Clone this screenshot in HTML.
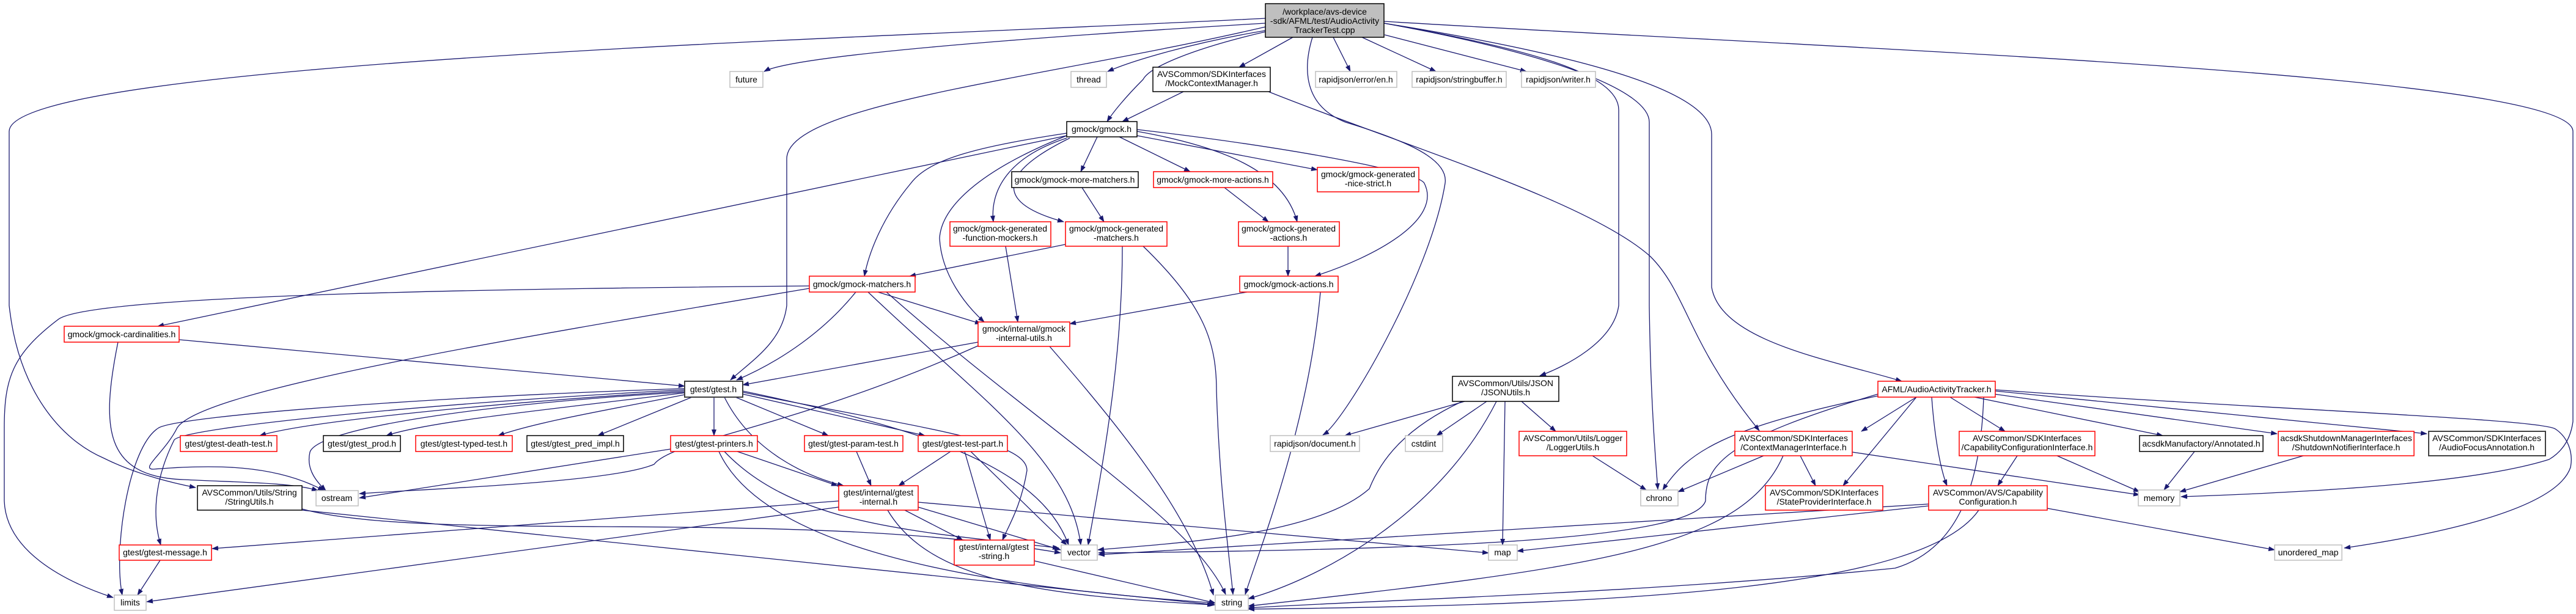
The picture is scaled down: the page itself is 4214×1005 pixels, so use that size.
<!DOCTYPE html>
<html><head><meta charset="utf-8"><style>
html,body{margin:0;padding:0;background:#fff;}
svg{display:block;}
text{font-family:"Liberation Sans",sans-serif;font-size:14px;fill:#000;text-anchor:middle;}
.e{fill:none;stroke:#191970;stroke-width:1.3;marker-end:url(#a);}
.r{fill:#fff;stroke:#ff0000;stroke-width:1.5;}
.k{fill:#fff;stroke:#000;stroke-width:1.5;}
.g{fill:#fff;stroke:#bfbfbf;stroke-width:1.5;}
.d{fill:#fff;stroke:#404040;stroke-width:2;}
.m{fill:#bfbfbf;stroke:#000;stroke-width:1.5;}
</style></head><body>
<svg width="4214" height="1005" viewBox="0 0 4214 1005" xmlns="http://www.w3.org/2000/svg">
<defs><marker id="a" markerWidth="11" markerHeight="8" refX="10" refY="4" orient="auto" markerUnits="userSpaceOnUse"><path d="M0,0 L11,4 L0,8 z" fill="#191970"/></marker></defs>

<!-- edges from main -->
<path class="e" d="M2070,30 C1500,60 15,100 15,215 L15,500 C30,640 100,720 170,750 C220,775 280,790 320,798"/>
<path class="e" d="M2264,35 C3000,80 4209,120 4209,215 L4209,690 C4205,720 4190,740 4170,752 C4050,790 3800,805 3568,813"/>
<path class="e" d="M2070,38 C1700,60 1300,90 1250,117"/>
<path class="e" d="M2070,50 C1950,70 1850,100 1812,117"/>
<path class="e" d="M2115,61 L2027,110"/>
<path class="e" d="M2070,52 C1950,80 1880,110 1870,130 C1840,160 1820,185 1811,199"/>
<path class="e" d="M2070,44 C1700,130 1287,170 1287,260 L1287,500 C1280,560 1230,590 1195,622"/>
<path class="e" d="M2181,61 L2209,117"/>
<path class="e" d="M2228,61 L2349,117"/>
<path class="e" d="M2265,57 L2497,117"/>
<path class="e" d="M2147,61 C2135,100 2125,170 2201,200 C2300,230 2370,260 2364,300 C2340,450 2200,690 2164,712"/>
<path class="e" d="M2264,38 C2500,80 2648,120 2648,180 L2648,500 C2640,560 2560,600 2519,615"/>
<path class="e" d="M2264,38 C2550,90 2698,150 2698,200 L2698,500 C2700,650 2708,750 2712,801"/>
<path class="e" d="M2264,38 C2650,100 2800,160 2800,220 L2800,470 C2815,560 3000,590 3111,624"/>
<path class="e" d="M2075,150 C2300,240 2600,330 2700,420 C2760,480 2760,560 2878,705"/>
<path class="e" d="M1936,150 L1836,199"/>

<!-- gmock.h -->
<path class="e" d="M1795,224 L1768,281"/>
<path class="e" d="M1831,224 L1947,281"/>
<path class="e" d="M1860,222 L2155,278"/>
<path class="e" d="M1745,226 C1640,260 1620,320 1625,363"/>
<path class="e" d="M1750,226 C1640,280 1620,330 1740,363"/>
<path class="e" d="M1860,215 C2000,240 2100,280 2122,363"/>
<path class="e" d="M1860,212 C2100,240 2320,280 2330,300 C2360,360 2250,420 2151,452"/>
<path class="e" d="M1745,218 C1600,240 1520,260 1490,300 C1440,360 1420,420 1414,452"/>
<path class="e" d="M1745,222 C1600,280 1540,340 1537,390 C1540,450 1580,500 1610,527"/>
<path class="e" d="M1745,222 L258,534"/>

<path class="e" d="M1770,307 L1806,363"/>
<path class="e" d="M2003,307 L2075,363"/>
<path class="e" d="M2107,403 L2107,452"/>
<path class="e" d="M1743,400 L1488,452"/>
<path class="e" d="M1836,403 C1836,600 1800,780 1780,892"/>
<path class="e" d="M1870,403 C1970,500 1990,560 1990,640 C1995,800 2010,900 2017,973"/>
<path class="e" d="M1645,403 L1665,527"/>
<path class="e" d="M2040,478 L1750,530"/>
<path class="e" d="M2160,478 C2140,700 2060,900 2037,973"/>

<!-- gmock-matchers -->
<path class="e" d="M1436,478 L1605,530"/>
<path class="e" d="M1400,478 C1350,540 1280,590 1205,622"/>
<path class="e" d="M1324,468 C900,472 150,480 95,523 C20,580 7,620 7,700 L7,820 C10,900 100,950 185,978"/>
<path class="e" d="M1420,478 C1600,650 1750,750 1768,892"/>
<path class="e" d="M1450,478 C1700,700 1950,850 2005,973"/>
<path class="e" d="M1324,472 C800,560 330,640 290,700 C270,740 230,767 250,768 C350,760 450,760 530,803"/>

<!-- gtest.h -->
<path class="e" d="M1120,640 C800,660 500,690 425,713"/>
<path class="e" d="M1120,643 C900,670 700,690 632,713"/>
<path class="e" d="M1120,646 C1000,670 880,690 815,713"/>
<path class="e" d="M1132,650 L978,713"/>
<path class="e" d="M1120,636 C700,650 300,680 260,700 C210,730 185,900 200,974"/>
<path class="e" d="M1120,638 C700,660 300,700 285,720 C250,790 250,850 263,892"/>
<path class="e" d="M1120,642 C800,660 520,700 507,740 C500,770 520,790 533,803"/>
<path class="e" d="M1168,650 L1168,713"/>
<path class="e" d="M1203,650 L1355,713"/>
<path class="e" d="M1215,645 L1513,713"/>
<path class="e" d="M1185,650 C1230,740 1320,780 1380,795"/>
<path class="e" d="M1215,640 C1500,700 1700,760 1748,892"/>
<path class="e" d="M1215,642 C1500,700 1680,720 1680,770 C1670,830 1650,860 1640,884"/>

<path class="e" d="M1097,735 L588,815"/>
<path class="e" d="M1206,739 L1370,795"/>
<path class="e" d="M1185,739 C1300,860 1500,870 1732,897"/>
<path class="e" d="M1176,739 C1250,900 1600,960 1988,987"/>
<path class="e" d="M1401,739 L1425,795"/>
<path class="e" d="M1555,739 L1470,795"/>
<path class="e" d="M1578,739 L1620,884"/>
<path class="e" d="M1588,739 L1745,892"/>
<path class="e" d="M1480,835 L1575,884"/>
<path class="e" d="M1502,830 L1735,900"/>
<path class="e" d="M1452,835 C1520,950 1700,975 1985,990"/>
<path class="e" d="M1502,822 L2435,905"/>
<path class="e" d="M1372,830 L240,985"/>
<path class="e" d="M1372,820 L347,898"/>
<path class="e" d="M1692,918 L1988,987"/>
<path class="e" d="M494,835 L1988,990"/>
<path class="e" d="M494,833 C700,890 1300,830 1735,905"/>
<path class="e" d="M262,917 L225,974"/>
<path class="e" d="M293,556 L1120,632"/>
<path class="e" d="M193,560 C165,700 170,780 300,785 C400,790 480,790 520,803"/>
<path class="e" d="M1600,560 L1215,630"/>
<path class="e" d="M1600,566 C1300,700 1100,720 1070,760 C1000,790 700,800 588,808"/>
<path class="e" d="M1717,567 C1850,720 1950,850 1985,974"/>

<!-- JSONUtils -->
<path class="e" d="M2396,657 L2200,713"/>
<path class="e" d="M2432,657 L2350,713"/>
<path class="e" d="M2489,657 L2545,706"/>
<path class="e" d="M2462,657 L2458,892"/>
<path class="e" d="M2448,657 C2350,850 2150,950 2042,980"/>
<path class="e" d="M2392,657 C2300,700 2260,750 2240,800 C2150,880 1900,890 1796,900"/>
<path class="e" d="M2605,746 L2693,802"/>
<path class="e" d="M2885,746 L2745,805"/>
<path class="e" d="M2945,746 L2970,795"/>
<path class="e" d="M3030,740 L3500,810"/>
<path class="e" d="M2917,746 C2850,900 2600,930 2042,992"/>

<!-- AudioActivityTracker -->
<path class="e" d="M3135,650 L3045,706"/>
<path class="e" d="M3072,648 C2820,700 2760,740 2720,802"/>
<path class="e" d="M3072,645 C2820,720 2790,760 2790,820 C2770,880 2400,900 1797,905"/>
<path class="e" d="M3135,650 L3015,795"/>
<path class="e" d="M3160,650 C3165,720 3175,770 3185,795"/>
<path class="e" d="M3190,650 L3280,706"/>
<path class="e" d="M3230,650 L3538,713"/>
<path class="e" d="M3262,645 L3725,710"/>
<path class="e" d="M3264,640 L3970,710"/>
<path class="e" d="M3264,638 C3700,670 4150,685 4180,702 C4200,715 4210,740 4205,765 C4180,840 3950,880 3835,897"/>
<path class="e" d="M3245,650 C3240,800 3200,900 3100,930 C2700,970 2300,980 2042,995"/>
<path class="e" d="M3155,828 L2482,902"/>
<path class="e" d="M3155,825 L1797,908"/>
<path class="e" d="M3349,832 L3721,900"/>
<path class="e" d="M3237,835 C3150,960 2700,990 2042,997"/>
<path class="e" d="M3300,746 L3268,795"/>
<path class="e" d="M3365,746 L3500,805"/>
<path class="e" d="M3590,739 L3540,802"/>
<path class="e" d="M3768,746 L3566,805"/>

<!-- nodes -->
<rect class="m" x="2070" y="6" width="194" height="55"/>
<text x="2167" y="24">/workplace/avs-device</text>
<text x="2167" y="39">-sdk/AFML/test/AudioActivity</text>
<text x="2167" y="54">TrackerTest.cpp</text>

<rect class="g" x="1194" y="117" width="54" height="26"/><text x="1221" y="135">future</text>
<rect class="g" x="1752" y="117" width="58" height="26"/><text x="1781" y="135">thread</text>
<rect class="k" x="1886" y="110" width="192" height="40"/><text x="1982" y="126">AVSCommon/SDKInterfaces</text><text x="1982" y="141">/MockContextManager.h</text>
<rect class="g" x="2152" y="117" width="133" height="26"/><text x="2218" y="135">rapidjson/error/en.h</text>
<rect class="g" x="2310" y="117" width="154" height="26"/><text x="2387" y="135">rapidjson/stringbuffer.h</text>
<rect class="g" x="2489" y="117" width="121" height="26"/><text x="2549" y="135">rapidjson/writer.h</text>

<rect class="k" x="1745" y="199" width="115" height="25"/><text x="1802" y="216">gmock/gmock.h</text>
<rect class="k" x="1655" y="281" width="207" height="26"/><text x="1758" y="299">gmock/gmock-more-matchers.h</text>
<rect class="r" x="1887" y="281" width="195" height="26"/><text x="1984" y="299">gmock/gmock-more-actions.h</text>
<rect class="r" x="2155" y="274" width="166" height="40"/><text x="2238" y="290">gmock/gmock-generated</text><text x="2238" y="305">-nice-strict.h</text>
<rect class="r" x="1554" y="363" width="165" height="40"/><text x="1636" y="379">gmock/gmock-generated</text><text x="1636" y="394">-function-mockers.h</text>
<rect class="r" x="1743" y="363" width="166" height="40"/><text x="1826" y="379">gmock/gmock-generated</text><text x="1826" y="394">-matchers.h</text>
<rect class="r" x="2026" y="363" width="165" height="40"/><text x="2108" y="379">gmock/gmock-generated</text><text x="2108" y="394">-actions.h</text>
<rect class="r" x="1324" y="452" width="173" height="26"/><text x="1410" y="470">gmock/gmock-matchers.h</text>
<rect class="r" x="2028" y="452" width="161" height="26"/><text x="2108" y="470">gmock/gmock-actions.h</text>

<rect class="r" x="105" y="534" width="188" height="26"/><text x="199" y="552">gmock/gmock-cardinalities.h</text>
<rect class="r" x="1600" y="527" width="150" height="40"/><text x="1675" y="543">gmock/internal/gmock</text><text x="1675" y="558">-internal-utils.h</text>
<rect class="d" x="1120" y="624" width="95" height="26"/><text x="1167" y="642">gtest/gtest.h</text>
<rect class="k" x="2376" y="616" width="174" height="41"/><text x="2463" y="632">AVSCommon/Utils/JSON</text><text x="2463" y="647">/JSONUtils.h</text>
<rect class="r" x="3072" y="624" width="192" height="26"/><text x="3168" y="642">AFML/AudioActivityTracker.h</text>

<rect class="r" x="295" y="713" width="158" height="26"/><text x="374" y="731">gtest/gtest-death-test.h</text>
<rect class="k" x="529" y="713" width="126" height="26"/><text x="592" y="731">gtest/gtest_prod.h</text>
<rect class="r" x="680" y="713" width="158" height="26"/><text x="759" y="731">gtest/gtest-typed-test.h</text>
<rect class="k" x="862" y="713" width="158" height="26"/><text x="941" y="731">gtest/gtest_pred_impl.h</text>
<rect class="r" x="1097" y="713" width="142" height="26"/><text x="1168" y="731">gtest/gtest-printers.h</text>
<rect class="r" x="1316" y="713" width="161" height="26"/><text x="1396" y="731">gtest/gtest-param-test.h</text>
<rect class="r" x="1502" y="713" width="146" height="26"/><text x="1575" y="731">gtest/gtest-test-part.h</text>
<rect class="g" x="2078" y="713" width="146" height="26"/><text x="2151" y="731">rapidjson/document.h</text>
<rect class="g" x="2299" y="713" width="61" height="26"/><text x="2329" y="731">cstdint</text>
<rect class="r" x="2485" y="706" width="176" height="40"/><text x="2573" y="722">AVSCommon/Utils/Logger</text><text x="2573" y="737">/LoggerUtils.h</text>
<rect class="r" x="2838" y="706" width="192" height="40"/><text x="2934" y="722">AVSCommon/SDKInterfaces</text><text x="2934" y="737">/ContextManagerInterface.h</text>
<rect class="r" x="3205" y="706" width="222" height="40"/><text x="3316" y="722">AVSCommon/SDKInterfaces</text><text x="3316" y="737">/CapabilityConfigurationInterface.h</text>
<rect class="k" x="3500" y="713" width="202" height="26"/><text x="3601" y="731">acsdkManufactory/Annotated.h</text>
<rect class="r" x="3727" y="706" width="222" height="40"/><text x="3838" y="722">acsdkShutdownManagerInterfaces</text><text x="3838" y="737">/ShutdownNotifierInterface.h</text>
<rect class="d" x="3973" y="706" width="191" height="40"/><text x="4068" y="722">AVSCommon/SDKInterfaces</text><text x="4068" y="737">/AudioFocusAnnotation.h</text>

<rect class="k" x="323" y="795" width="171" height="40"/><text x="408" y="811">AVSCommon/Utils/String</text><text x="408" y="826">/StringUtils.h</text>
<rect class="g" x="517" y="803" width="69" height="25"/><text x="551" y="820">ostream</text>
<rect class="r" x="1372" y="795" width="130" height="40"/><text x="1437" y="811">gtest/internal/gtest</text><text x="1437" y="826">-internal.h</text>
<rect class="g" x="2684" y="802" width="61" height="26"/><text x="2714" y="820">chrono</text>
<rect class="r" x="2888" y="795" width="192" height="40"/><text x="2984" y="811">AVSCommon/SDKInterfaces</text><text x="2984" y="826">/StateProviderInterface.h</text>
<rect class="r" x="3155" y="795" width="194" height="40"/><text x="3252" y="811">AVSCommon/AVS/Capability</text><text x="3252" y="826">Configuration.h</text>
<rect class="g" x="3498" y="802" width="68" height="26"/><text x="3532" y="820">memory</text>

<rect class="r" x="195" y="892" width="151" height="25"/><text x="270" y="909">gtest/gtest-message.h</text>
<rect class="r" x="1561" y="884" width="131" height="41"/><text x="1626" y="900">gtest/internal/gtest</text><text x="1626" y="915">-string.h</text>
<rect class="g" x="1736" y="892" width="59" height="25"/><text x="1765" y="909">vector</text>
<rect class="g" x="2435" y="892" width="47" height="25"/><text x="2458" y="909">map</text>
<rect class="g" x="3721" y="892" width="110" height="25"/><text x="3776" y="909">unordered_map</text>
<rect class="g" x="187" y="974" width="52" height="25"/><text x="213" y="991">limits</text>
<rect class="g" x="1988" y="974" width="54" height="25"/><text x="2015" y="991">string</text>
</svg>
</body></html>
